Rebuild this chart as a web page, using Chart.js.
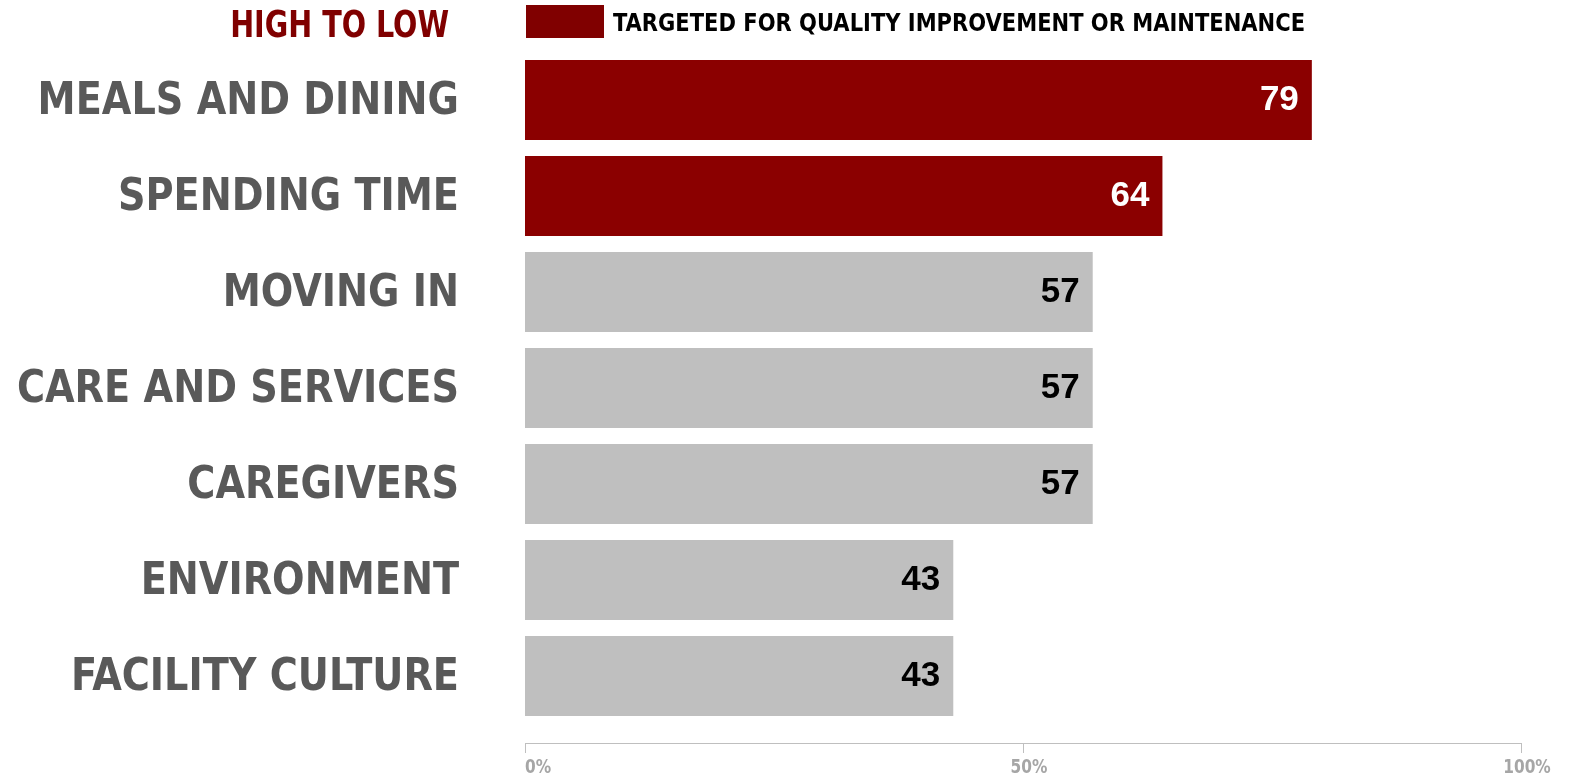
<!DOCTYPE html>
<html>
<head>
<meta charset="utf-8">
<script src="https://cdn.jsdelivr.net/npm/chart.js@4.4.1/dist/chart.umd.min.js"></script>
<style>
  html, body { margin: 0; padding: 0; background: #fff; }
  #wrap { width: 1573px; height: 776px; }
</style>
</head>
<body>
<div id="wrap"><canvas id="chart"></canvas></div>
<script>
// ─── Data ────────────────────────────────────────────────────────
const categories = ["MEALS AND DINING", "SPENDING TIME", "MOVING IN", "CARE AND SERVICES", "CAREGIVERS", "ENVIRONMENT", "FACILITY CULTURE"];
const scores = [79, 64, 57, 57, 57, 43, 43];
const targeted = [true, true, false, false, false, false, false];
const xTicks = [0, 50, 100];
const legendText = "TARGETED FOR QUALITY IMPROVEMENT OR MAINTENANCE";
const sortText = "HIGH TO LOW";

const RED = "#8b0000";
const DARK_RED = "#800000";
const GRAY = "#bfbfbf";
const NARROW = "'DejaVu Sans Condensed', 'Liberation Sans', sans-serif";

// draw text squeezed horizontally (no narrow bold face installed)
function narrowText(ctx, text, x, y, align, squeeze) {
    ctx.save();
    ctx.translate(x, y);
    ctx.scale(squeeze, 1);
    ctx.textAlign = align;
    ctx.textBaseline = "alphabetic";
    ctx.fillText(text, 0, 0);
    ctx.restore();
}

// ─── Category labels left of the bars ────────────────────────────
const categoryLabels = {
    id: "categoryLabels",
    afterDraw(chart) {
        const ctx = chart.ctx;
        const y = chart.scales.y;
        ctx.save();
        ctx.font = "bold 45px " + NARROW;
        ctx.fillStyle = "#595959";
        categories.forEach((c, i) => {
            narrowText(ctx, c, chart.chartArea.left - 66, y.getPixelForValue(i) + 14, "right", 0.945);
        });
        ctx.restore();
    }
};

// ─── Value labels inside bar ends ────────────────────────────────
const valueLabels = {
    id: "valueLabels",
    afterDatasetsDraw(chart) {
        const ctx = chart.ctx;
        const meta = chart.getDatasetMeta(0);
        ctx.save();
        ctx.font = "bold 35px 'Liberation Sans', Arial, sans-serif";
        ctx.textAlign = "right";
        ctx.textBaseline = "alphabetic";
        meta.data.forEach((bar, i) => {
            ctx.fillStyle = targeted[i] ? "#ffffff" : "#000000";
            ctx.fillText(String(scores[i]), bar.x - 13, bar.y + 10);
        });
        ctx.restore();
    }
};

// ─── Baseline, tick marks and % labels below the bars ────────────
const baseAxis = {
    id: "baseAxis",
    afterDraw(chart) {
        const ctx = chart.ctx;
        const x = chart.scales.x;
        const y = chart.chartArea.bottom + 19;
        ctx.save();
        ctx.strokeStyle = "#bfbfbf";
        ctx.lineWidth = 1;
        ctx.beginPath();
        ctx.moveTo(x.getPixelForValue(0), y + 0.5);
        ctx.lineTo(x.getPixelForValue(100), y + 0.5);
        xTicks.forEach(v => {
            const px = Math.round(x.getPixelForValue(v)) + 0.5;
            ctx.moveTo(px, y);
            ctx.lineTo(px, y + 10);
        });
        ctx.stroke();

        ctx.font = "bold 19px " + NARROW;
        ctx.fillStyle = "#a6a6a6";
        xTicks.forEach(v => {
            const label = v + "%";
            const w = ctx.measureText(label).width * 0.9;
            const cx = Math.max(x.getPixelForValue(v) + 6, chart.chartArea.left + w / 2);
            narrowText(ctx, label, cx, y + 30, "center", 0.9);
        });
        ctx.restore();
    }
};

// ─── Header row: sort order + legend key ─────────────────────────
const header = {
    id: "header",
    afterDraw(chart) {
        const ctx = chart.ctx;
        const left = chart.chartArea.left;
        ctx.save();
        ctx.font = "bold 37px " + NARROW;
        ctx.fillStyle = DARK_RED;
        narrowText(ctx, sortText, left - 76, 37, "right", 0.86);

        ctx.fillStyle = DARK_RED;
        ctx.fillRect(left + 1, 5, 78, 33);
        ctx.font = "bold 24px " + NARROW;
        ctx.fillStyle = "#000000";
        narrowText(ctx, chart.data.datasets[0].label, left + 88, 31, "left", 0.975);
        ctx.restore();
    }
};

new Chart(document.getElementById("chart"), {
    type: "bar",
    data: {
        labels: categories,
        datasets: [{
            label: legendText,
            data: scores,
            backgroundColor: targeted.map(t => t ? RED : GRAY),
            borderWidth: 0,
            barPercentage: 80 / 96,
            categoryPercentage: 1
        }]
    },
    options: {
        indexAxis: "y",
        responsive: true,
        maintainAspectRatio: false,
        animation: false,
        layout: { padding: { top: 52, right: 52, bottom: 0, left: 0 } },
        plugins: {
            tooltip: { enabled: false },
            legend: { display: false }
        },
        scales: {
            x: {
                min: 0,
                max: 100,
                afterFit: scale => { scale.height = 52; },
                grid: { display: false, drawTicks: false },
                border: { display: false },
                ticks: { display: false }
            },
            y: {
                afterFit: scale => { scale.width = 525; },
                grid: { display: false, drawTicks: false },
                border: { display: false },
                ticks: { display: false }
            }
        }
    },
    plugins: [valueLabels, baseAxis, categoryLabels, header]
});
</script>
</body>
</html>
